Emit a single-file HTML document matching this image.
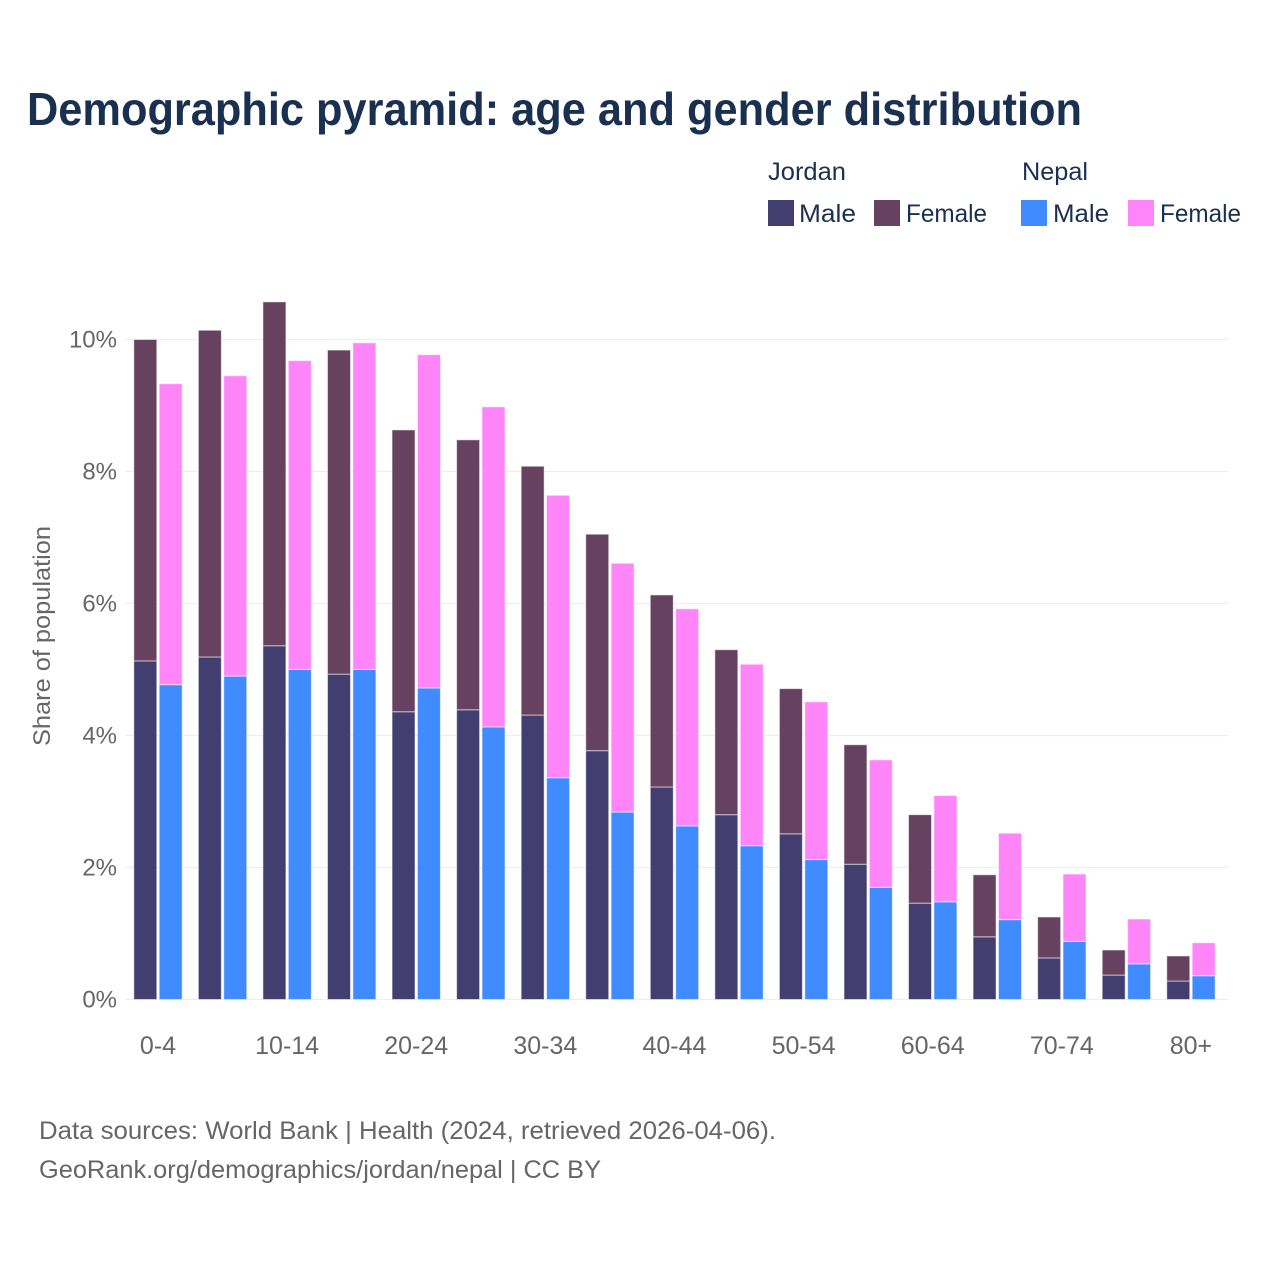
<!DOCTYPE html>
<html lang="en">
<head>
<meta charset="utf-8">
<title>Demographic pyramid: age and gender distribution</title>
<style>
html,body{margin:0;padding:0;background:#fff;width:1280px;height:1280px;overflow:hidden}
svg{display:block}
text{font-family:"Liberation Sans",Arial,sans-serif}
.tick{font-size:24px;fill:#666}
.xtick{font-size:25px;fill:#666}
.leg{font-size:25px;fill:#1a3050}
.src{font-size:25px;fill:#666}
</style>
</head>
<body>
<svg id="chart" xmlns="http://www.w3.org/2000/svg" width="1280" height="1280" viewBox="0 0 1280 1280">
  <rect x="0" y="0" width="1280" height="1280" fill="#fff"/>
  <text x="27" y="125" font-size="46" font-weight="700" fill="#1a3050" textLength="1055" lengthAdjust="spacingAndGlyphs">Demographic pyramid: age and gender distribution</text>

  <g>
    <text class="leg" x="768" y="180" textLength="78" lengthAdjust="spacingAndGlyphs">Jordan</text>
    <rect x="768" y="200" width="26" height="26" fill="#423f70"/>
    <text class="leg" x="799" y="222" textLength="57" lengthAdjust="spacingAndGlyphs">Male</text>
    <rect x="874" y="200" width="26" height="26" fill="#674260"/>
    <text class="leg" x="906" y="222" textLength="81" lengthAdjust="spacingAndGlyphs">Female</text>
    <text class="leg" x="1022" y="180" textLength="66" lengthAdjust="spacingAndGlyphs">Nepal</text>
    <rect x="1021" y="200" width="26" height="26" fill="#408bff"/>
    <text class="leg" x="1053" y="222" textLength="56" lengthAdjust="spacingAndGlyphs">Male</text>
    <rect x="1128" y="200" width="26" height="26" fill="#ff85f9"/>
    <text class="leg" x="1160" y="222" textLength="81" lengthAdjust="spacingAndGlyphs">Female</text>
  </g>

  <g id="grid"></g>
  <g id="bars"></g>
  <g id="yticks"></g>
  <g id="xticks"></g>

  <text transform="translate(50,636) rotate(-90)" text-anchor="middle" font-size="24" fill="#666" textLength="220" lengthAdjust="spacingAndGlyphs">Share of population</text>

  <text class="src" x="39" y="1139" textLength="737" lengthAdjust="spacingAndGlyphs">Data sources: World Bank | Health (2024, retrieved 2026-04-06).</text>
  <text class="src" x="39" y="1178" textLength="562" lengthAdjust="spacingAndGlyphs">GeoRank.org/demographics/jordan/nepal | CC BY</text>
</svg>
<script>
const ageGroups = ["0-4","5-9","10-14","15-19","20-24","25-29","30-34","35-39","40-44","45-49","50-54","55-59","60-64","65-69","70-74","75-79","80+"];
const xTickLabels = ["0-4","10-14","20-24","30-34","40-44","50-54","60-64","70-74","80+"];
const yTickValues = [0,2,4,6,8,10];
const jordanMale = [5.13,5.19,5.36,4.93,4.36,4.39,4.31,3.77,3.22,2.80,2.51,2.05,1.46,0.95,0.63,0.37,0.28];
const jordanFemale = [4.87,4.95,5.21,4.91,4.27,4.09,3.77,3.28,2.91,2.50,2.20,1.81,1.34,0.94,0.62,0.38,0.38];
const nepalMale = [4.77,4.90,5.00,5.00,4.72,4.13,3.36,2.84,2.63,2.33,2.12,1.70,1.48,1.21,0.88,0.54,0.36];
const nepalFemale = [4.56,4.55,4.68,4.95,5.05,4.85,4.28,3.77,3.29,2.75,2.39,1.93,1.61,1.31,1.02,0.68,0.50];

const NS = "http://www.w3.org/2000/svg";
const plotLeft = 125.5, plotRight = 1228, yZero = 999.5, pxPerPct = 66;
const firstCenter = 158, groupStep = 64.56, barWidth = 23, barGap = 1.2;

function yScale(v){ return yZero - v * pxPerPct; }
function xScale(i){ return firstCenter + i * groupStep; }
function mk(tag, attrs){
  const el = document.createElementNS(NS, tag);
  for (const k in attrs) el.setAttribute(k, attrs[k]);
  return el;
}

const gridG = document.getElementById("grid");
const yG = document.getElementById("yticks");
yTickValues.forEach(function(v){
  const line = mk("line", {x1:plotLeft, x2:plotRight, y1:yScale(v), y2:yScale(v), stroke:"#eeeeee", "stroke-width":1.2});
  
  
  gridG.appendChild(line);
  const t = mk("text", {x:117, y:yScale(v)+8, "text-anchor":"end", "class":"tick"});
  
  
  t.textContent = v + "%";
  yG.appendChild(t);
});

const xG = document.getElementById("xticks");
xTickLabels.forEach(function(lab){
  const i = ageGroups.indexOf(lab);
  const t = mk("text", {x:xScale(i), y:1054, "text-anchor":"middle", "class":"xtick"});
  
  
  t.textContent = lab;
  xG.appendChild(t);
});

const barsG = document.getElementById("bars");
function addBar(x, base, val, fill){
  const top = yScale(base + val), bottom = yScale(base);
  const r = mk("rect", {x:x, y:top, width:barWidth, height:bottom-top, fill:fill, stroke:"#fff", "stroke-opacity":0.55, "stroke-width":1});
  
  
  barsG.appendChild(r);
}
ageGroups.forEach(function(a, i){
  const c = xScale(i);
  const xJ = c - barWidth - barGap, xN = c + barGap;
  addBar(xJ, 0, jordanMale[i], "#423f70");
  addBar(xJ, jordanMale[i], jordanFemale[i], "#674260");
  addBar(xN, 0, nepalMale[i], "#408bff");
  addBar(xN, nepalMale[i], nepalFemale[i], "#ff85f9");
});
</script>
</body>
</html>
